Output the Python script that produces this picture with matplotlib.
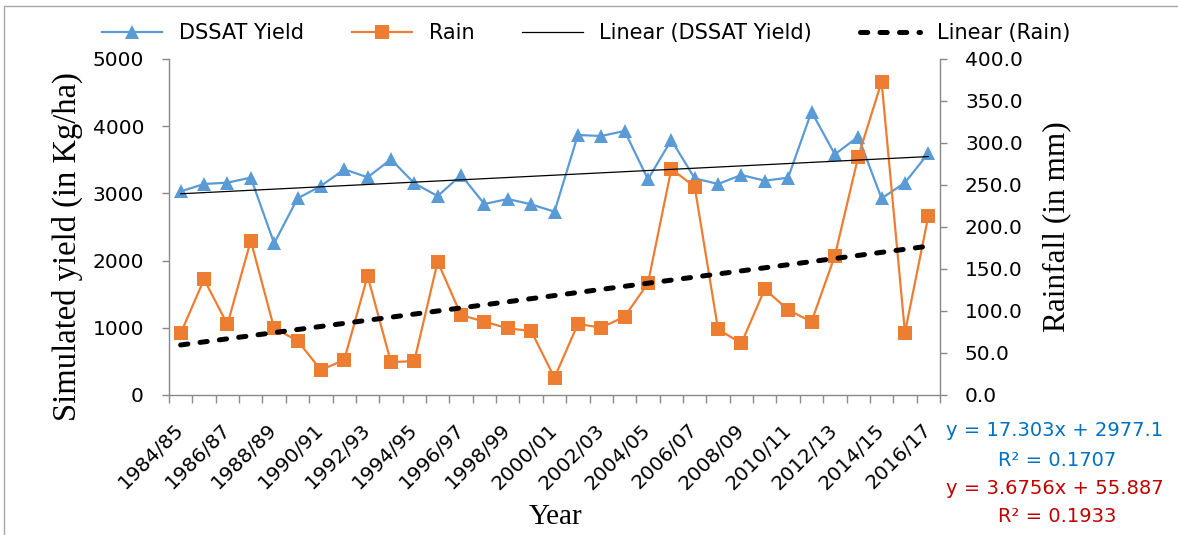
import numpy as np
import matplotlib
matplotlib.use("Agg")
import matplotlib.pyplot as plt
from matplotlib.lines import Line2D

# Seasons 1984/85 .. 2016/17
seasons = [f"{y}/{str(y + 1)[-2:]}" for y in range(1984, 2017)]

# Simulated yield (kg/ha)
dssat_yield = [3030, 3140, 3160, 3235, 2257, 2925, 3110, 3358, 3240, 3507,
               3150, 2960, 3274, 2842, 2917, 2837, 2728, 3869, 3854, 3929,
               3209, 3795, 3224, 3140, 3274, 3189, 3234, 4216, 3581, 3844,
               2925, 3160, 3596]

# Seasonal rainfall (mm)
rain = [73.4, 137.7, 84.1, 183.7, 79.4, 64.7, 29.8, 41.7, 141.7, 39.0,
        40.5, 158.7, 95.2, 87.3, 79.4, 76.2, 20.6, 84.5, 80.2, 93.3,
        133.0, 269.0, 248.0, 78.2, 61.5, 126.2, 101.2, 87.3, 165.8, 283.7,
        373.0, 74.2, 213.0]

# Linear trend coefficients (slope, intercept) and R²
yield_fit = (17.303, 2977.1, 0.1707)
rain_fit = (3.6756, 55.887, 0.1933)

yield_ticks = [0, 1000, 2000, 3000, 4000, 5000]
rain_ticks = [0, 50, 100, 150, 200, 250, 300, 350, 400]

BLUE = "#5B9BD5"
ORANGE = "#ED7D31"
GRAY = "#898989"
EQ_BLUE = "#0070C0"
EQ_RED = "#C00000"
SERIF = "Liberation Serif"

W, H = 1178, 535
fig = plt.figure(figsize=(W / 100, H / 100), dpi=100)
fig.patch.set_facecolor("white")

ax = fig.add_axes([169 / W, 1 - 395 / H, (940 - 169) / W, (395 - 59) / H])
ax2 = ax.twinx()

x = np.arange(1, len(seasons) + 1)

# yield series on the primary axis
ax.plot(x, dssat_yield, color=BLUE, lw=1.6, marker="^", ms=10.5,
        markeredgewidth=0, zorder=3)

# rain series and both trend lines on the secondary axis (drawn on top)
ax2.plot(x, rain, color=ORANGE, lw=1.6, marker="s", ms=10,
         markeredgewidth=0, zorder=3)
yield_trend = yield_fit[0] * x + yield_fit[1]
rain_trend = rain_fit[0] * x + rain_fit[1]
ax2.plot(x, yield_trend, color="black", lw=0.9, transform=ax.transData,
         zorder=4)
ax2.plot(x, rain_trend, color="black", lw=3.6, dashes=(1.45, 2.45),
         dash_capstyle="round", zorder=5)

ax.set_xlim(0.5, len(seasons) + 0.5)
ax.set_ylim(0, 5000)
ax2.set_ylim(0, 400)

# axes styling
for a in (ax, ax2):
    for s in a.spines.values():
        s.set_color(GRAY)
        s.set_linewidth(1.0)
    a.spines["top"].set_visible(False)
ax.spines["right"].set_visible(False)
ax2.spines["left"].set_visible(False)
ax2.spines["bottom"].set_visible(False)

ax.set_yticks(yield_ticks)
ax.set_yticklabels([str(v) for v in yield_ticks])
ax2.set_yticks(rain_ticks)
ax2.set_yticklabels([f"{v:.1f}" for v in rain_ticks])

ax.set_xticks(np.arange(0.5, len(seasons) + 1, 1.0))
ax.set_xticklabels([])
ax.set_xticks(x[::2], minor=True)
ax.set_xticklabels(seasons[::2], minor=True, rotation=45, ha="right",
                   va="center", rotation_mode="anchor")

ax.tick_params(axis="y", which="major", direction="out", length=5,
               width=1, color=GRAY, pad=13, labelsize=14.5, labelcolor="black")
ax2.tick_params(axis="y", which="major", direction="out", length=5,
                width=1, color=GRAY, pad=13, labelsize=14.5, labelcolor="black")
ax.tick_params(axis="x", which="major", direction="out", length=6,
               width=1, color=GRAY)
ax.tick_params(axis="x", which="minor", length=0, pad=23, labelsize=14.5,
               labelcolor="black")

# axis titles
fig.text(67 / W, 1 - 247 / H, "Simulated yield (in Kg/ha)", rotation=90,
         ha="center", va="center", family=SERIF, fontsize=23.5)
fig.text(1057 / W, 1 - 227 / H, "Rainfall (in mm)", rotation=90,
         ha="center", va="center", family=SERIF, fontsize=22.5)
fig.text(556 / W, 1 - 517 / H, "Year", ha="center", va="center",
         family=SERIF, fontsize=21)

# trend equations
fig.text(1055 / W, 1 - 431 / H,
         f"y = {yield_fit[0]:.3f}x + {yield_fit[1]:.1f}",
         ha="center", va="center", color=EQ_BLUE, fontsize=14)
fig.text(1057 / W, 1 - 460 / H, f"R² = {yield_fit[2]:.4f}",
         ha="center", va="center", color=EQ_BLUE, fontsize=14)
fig.text(1055 / W, 1 - 488 / H,
         f"y = {rain_fit[0]:.4f}x + {rain_fit[1]:.3f}",
         ha="center", va="center", color=EQ_RED, fontsize=14)
fig.text(1057 / W, 1 - 517 / H, f"R² = {rain_fit[2]:.4f}",
         ha="center", va="center", color=EQ_RED, fontsize=14)

# legend
handles = [
    Line2D([], [], color=BLUE, lw=1.6, marker="^", ms=10.5,
           markeredgewidth=0),
    Line2D([], [], color=ORANGE, lw=1.6, marker="s", ms=10,
           markeredgewidth=0),
    Line2D([], [], color="black", lw=0.9),
    Line2D([], [], color="black", lw=3.6, dashes=(1.45, 2.45),
           dash_capstyle="round"),
]
labels = ["DSSAT Yield", "Rain", "Linear (DSSAT Yield)", "Linear (Rain)"]
fig.legend(handles, labels, loc="center", bbox_to_anchor=(586 / W, 1 - 33 / H),
           ncol=4, frameon=False, fontsize=15, handlelength=2.9,
           handletextpad=0.8, columnspacing=2.3, borderpad=0, borderaxespad=0)

# outer chart border
fig.add_artist(Line2D([4 / W, 4 / W, 1.0], [0.0, 1 - 6 / H, 1 - 6 / H],
                      transform=fig.transFigure, color="#A6A6A6", lw=1))

fig.savefig("out.png", dpi=100)
